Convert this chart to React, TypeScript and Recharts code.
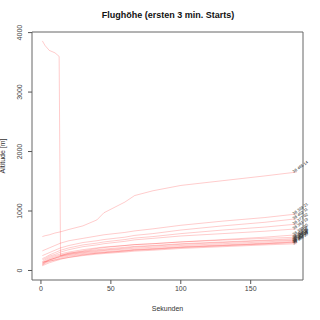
import React from 'react'
import { LineChart, Line, XAxis, YAxis, ReferenceArea } from 'recharts'

const seconds = [1, 3, 6, 10, 13, 14, 20, 30, 40, 45, 60, 67, 80, 100, 130, 160, 183]

const flightIds = [
  '38 465 14', '38 412 07', '38 399 21', '38 402 11', '38 377 02', '38 381 19',
  '38 390 05', '38 356 12', '38 371 08', '38 362 16', '38 349 03', '38 368 20',
  '38 353 09', '38 344 15',
]

const altitudes: number[][] = [
  [570, 585, 600, 630, 645, 650, 690, 750, 850, 970, 1150, 1260, 1340, 1430, 1510, 1590, 1655],
  [3860, 3780, 3700, 3660, 3600, 250, 290, 330, 370, 385, 420, 435, 450, 480, 510, 540, 560],
  [330, 350, 380, 420, 450, 460, 500, 540, 580, 600, 640, 665, 700, 760, 830, 890, 950],
  [250, 270, 300, 340, 370, 380, 420, 470, 500, 520, 560, 590, 620, 680, 750, 810, 870],
  [200, 220, 260, 300, 330, 340, 380, 430, 460, 480, 520, 545, 570, 620, 680, 730, 780],
  [180, 200, 240, 270, 300, 310, 350, 400, 430, 450, 490, 515, 540, 580, 620, 660, 700],
  [150, 180, 220, 250, 270, 280, 310, 350, 380, 395, 420, 435, 450, 480, 520, 560, 600],
  [130, 160, 200, 230, 250, 260, 290, 320, 350, 360, 390, 405, 420, 450, 480, 510, 540],
  [120, 150, 180, 210, 230, 240, 270, 300, 320, 335, 360, 375, 390, 420, 450, 480, 510],
  [100, 130, 170, 200, 220, 230, 255, 285, 305, 315, 340, 355, 370, 400, 430, 460, 490],
  [90, 120, 150, 180, 200, 210, 240, 270, 290, 300, 325, 340, 355, 385, 415, 445, 470],
  [80, 100, 130, 160, 180, 190, 220, 250, 275, 285, 310, 325, 340, 370, 400, 430, 450],
  [140, 150, 160, 175, 190, 195, 220, 260, 290, 300, 330, 345, 360, 390, 420, 450, 480],
  [110, 140, 180, 210, 235, 245, 275, 310, 335, 345, 375, 395, 410, 440, 470, 500, 520],
]

const xTicks = [0, 50, 100, 150]
const yTicks = [0, 1000, 2000, 3000, 4000]

const data = seconds.map((t, i) => {
  const row: any = { t }
  altitudes.forEach((s, k) => {
    row['s' + k] = s[i]
  })
  return row
})

const font = 'Liberation Sans, Arial, sans-serif'

const YTick = (props: any) => {
  const { x, y, payload } = props
  return (
    <text
      x={x - 4}
      y={y}
      transform={`rotate(-90, ${x - 4}, ${y})`}
      textAnchor="middle"
      fontSize={7}
      fill="#444"
      fontFamily={font}
    >
      {payload.value}
    </text>
  )
}

const endLabel = (name: string) => (props: any) => {
  const { x, y, index } = props
  if (index !== seconds.length - 1) return null
  return (
    <text
      key={name}
      x={x - 3}
      y={y + 1}
      transform={`rotate(-35, ${x - 3}, ${y + 1})`}
      fontSize={4}
      fill="#222"
      fontFamily={font}
    >
      {name}
    </text>
  )
}

export default function App() {
  return (
    <div style={{ position: 'absolute', left: 0, top: 0, width: 320, height: 320, background: '#fff' }}>
      <div
        style={{
          position: 'absolute',
          top: 10,
          left: 0,
          width: 336,
          textAlign: 'center',
          fontFamily: font,
          fontWeight: 'bold',
          fontSize: 9,
          color: '#111',
        }}
      >
        Flughöhe (ersten 3 min. Starts)
      </div>
      <LineChart
        width={320}
        height={320}
        data={data}
        margin={{ top: 32, right: 17, bottom: 0, left: 0 }}
      >
        <XAxis
          dataKey="t"
          type="number"
          domain={[-6.4, 187.4]}
          ticks={xTicks}
          axisLine={false}
          tickSize={4}
          tickLine={{ stroke: '#555' }}
          tick={{ fontSize: 7, fill: '#444', fontFamily: font }}
          height={40}
          label={{ value: 'Sekunden', position: 'insideBottom', offset: 9, fontSize: 7, fill: '#333', fontFamily: font }}
        />
        <YAxis
          type="number"
          domain={[-160, 4010]}
          ticks={yTicks}
          axisLine={false}
          tickSize={4}
          tickLine={{ stroke: '#555' }}
          tick={<YTick />}
          width={32}
          label={{ value: 'Altitude [m]', angle: -90, position: 'insideLeft', offset: 3, fontSize: 7, fill: '#333', fontFamily: font, style: { textAnchor: 'middle' } }}
        />
        <ReferenceArea x1={-6.4} x2={187.4} y1={-160} y2={4010} fill="none" stroke="#666" strokeWidth={1} />
        {altitudes.map((_, k) => (
          <Line
            key={k}
            dataKey={'s' + k}
            type="linear"
            stroke="rgba(255,0,0,0.2)"
            strokeWidth={1}
            dot={false}
            isAnimationActive={false}
            label={endLabel(flightIds[k])}
          />
        ))}
      </LineChart>
    </div>
  )
}
